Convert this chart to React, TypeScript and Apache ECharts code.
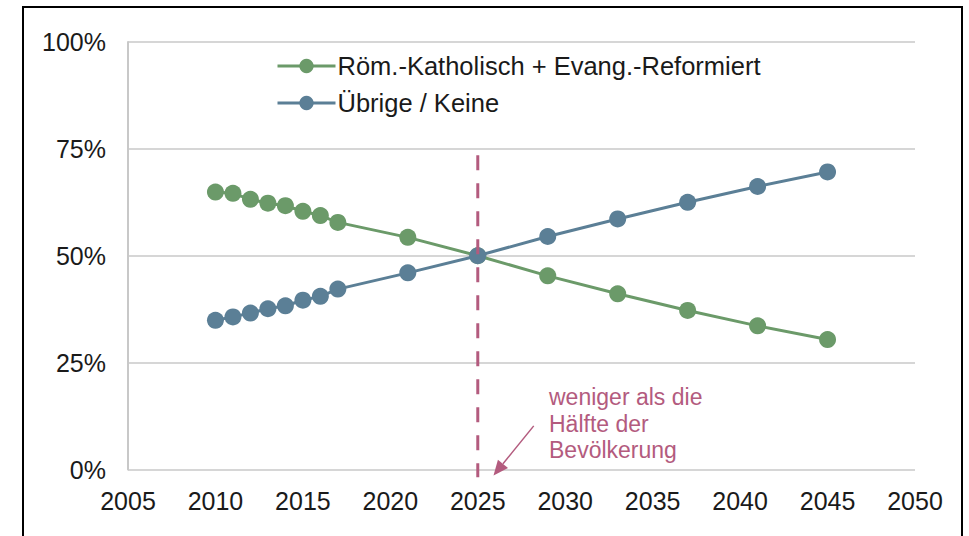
import React, { useEffect, useRef } from "react";
import * as echarts from "echarts";

const years = [2010, 2011, 2012, 2013, 2014, 2015, 2016, 2017, 2021, 2025, 2029, 2033, 2037, 2041, 2045];
const christian = [64.9, 64.6, 63.2, 62.3, 61.7, 60.4, 59.4, 57.8, 54.3, 50.0, 45.3, 41.1, 37.2, 33.6, 30.4];
const others = [34.9, 35.7, 36.6, 37.6, 38.3, 39.6, 40.5, 42.2, 46.0, 50.0, 54.5, 58.6, 62.5, 66.2, 69.6];
const seriesNames = ["Röm.-Katholisch + Evang.-Reformiert", "Übrige / Keine"];
const yTicks = [0, 25, 50, 75, 100];
const xMin = 2005;
const xMax = 2050;
const thresholdYear = 2025;
const thresholdLine = [
  [thresholdYear, 73.5],
  [thresholdYear, -1.8],
];
const arrowFrom = [2028.2, 10.2];
const arrowTo = [2025.9, -1.4];
const annotationLines = ["weniger als die", "Hälfte der", "Bevölkerung"];

const GREEN = "#6b9a69";
const BLUE = "#5b7f96";
const PINK = "#b35b7e";
const FONT = "'Liberation Sans', Arial, sans-serif";

export default function App() {
  const ref = useRef<HTMLDivElement>(null);
  useEffect(() => {
    if (!ref.current) return;
    const chart = echarts.init(ref.current, undefined, { renderer: "svg" });
    chart.setOption({
      animation: false,
      backgroundColor: "#ffffff",
      textStyle: { fontFamily: FONT },
      grid: { left: 128, right: 54, top: 42, bottom: 66.5, containLabel: false },
      legend: {
        orient: "vertical",
        left: 276,
        top: 53,
        padding: 0,
        itemWidth: 58,
        itemHeight: 18,
        itemGap: 11,
        data: seriesNames,
        lineStyle: { width: 3 },
        textStyle: { fontSize: 25.5, color: "#1a1a1a", fontFamily: FONT, padding: [0, 0, 0, -3] },
      },
      xAxis: {
        type: "value",
        min: xMin,
        max: xMax,
        interval: 5,
        axisLine: { show: false },
        axisTick: { show: false },
        splitLine: { show: false },
        axisLabel: {
          fontSize: 25,
          color: "#1a1a1a",
          margin: 19,
          fontFamily: FONT,
          formatter: (v: number) => String(v),
        },
      },
      yAxis: {
        type: "value",
        min: yTicks[0],
        max: yTicks[yTicks.length - 1],
        interval: 25,
        axisLine: { show: true, lineStyle: { color: "#c8c8c8", width: 2 } },
        axisTick: { show: false },
        splitLine: { show: true, lineStyle: { color: "#d6d6d6", width: 2 } },
        axisLabel: { fontSize: 25, color: "#1a1a1a", margin: 22, formatter: "{value}%", fontFamily: FONT },
      },
      series: [
        {
          name: seriesNames[0],
          type: "line",
          data: years.map((y, i) => [y, christian[i]]),
          color: GREEN,
          symbol: "circle",
          symbolSize: 17,
          lineStyle: { width: 3, color: GREEN },
          itemStyle: { color: GREEN },
          z: 3,
        },
        {
          name: seriesNames[1],
          type: "line",
          data: years.map((y, i) => [y, others[i]]),
          color: BLUE,
          symbol: "circle",
          symbolSize: 17,
          lineStyle: { width: 3, color: BLUE },
          itemStyle: { color: BLUE },
          z: 4,
        },
        {
          name: "threshold",
          type: "line",
          data: thresholdLine,
          symbol: "none",
          clip: false,
          silent: true,
          lineStyle: { width: 3, color: PINK, type: [15, 13] },
          z: 5,
        },
      ],
    });

    const p1 = chart.convertToPixel({ gridIndex: 0 }, arrowFrom) as number[];
    const p2 = chart.convertToPixel({ gridIndex: 0 }, arrowTo) as number[];
    const dx = p2[0] - p1[0];
    const dy = p2[1] - p1[1];
    const len = Math.sqrt(dx * dx + dy * dy);
    const ux = dx / len;
    const uy = dy / len;
    const headLen = 15;
    const headHalf = 6.5;
    const bx = p2[0] - ux * headLen;
    const by = p2[1] - uy * headLen;
    const nx = -uy;
    const ny = ux;

    chart.setOption({
      graphic: [
        {
          type: "line",
          silent: true,
          shape: { x1: p1[0], y1: p1[1], x2: bx, y2: by },
          style: { stroke: PINK, lineWidth: 1.5 },
          z: 10,
        },
        {
          type: "polygon",
          silent: true,
          shape: {
            points: [
              [p2[0], p2[1]],
              [bx + nx * headHalf, by + ny * headHalf],
              [bx - nx * headHalf, by - ny * headHalf],
            ],
          },
          style: { fill: PINK },
          z: 10,
        },
        {
          type: "text",
          left: 549,
          top: 384,
          style: {
            text: annotationLines.join("\n"),
            fill: PINK,
            font: `23px ${FONT}`,
            lineHeight: 26.5,
          },
        },
        {
          type: "rect",
          shape: { x: 23, y: 7, width: 939, height: 600 },
          style: { fill: "none", stroke: "#000000", lineWidth: 2 },
          silent: true,
        },
      ],
    });
    return () => chart.dispose();
  }, []);
  return <div ref={ref} style={{ position: "absolute", left: 0, top: 0, width: 969, height: 536 }} />;
}
